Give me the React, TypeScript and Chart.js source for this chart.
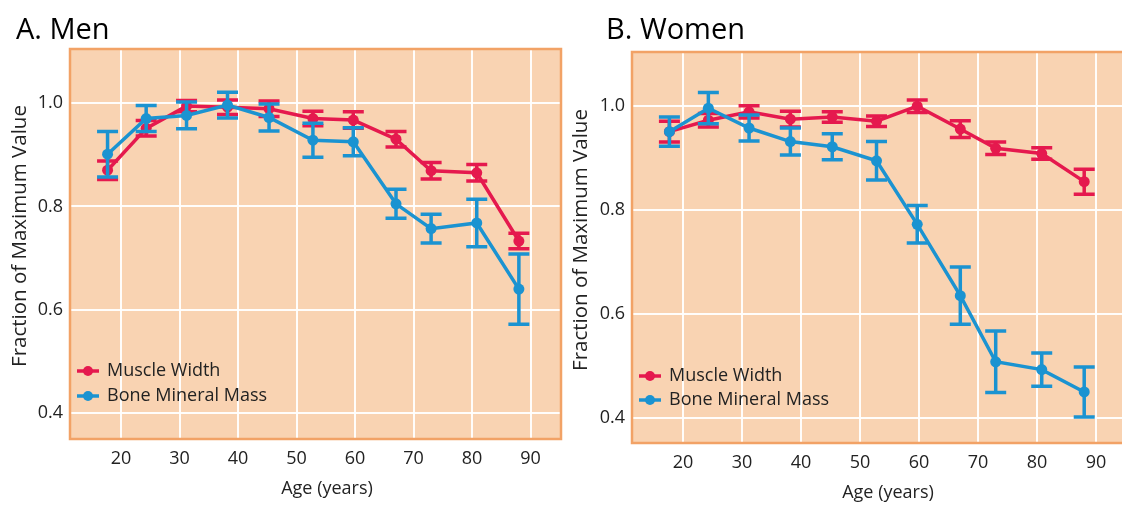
import React, { useEffect, useRef } from "react";
import { Chart, registerables } from "chart.js";

Chart.register(...registerables);

// ---- data ----
const AGES = [17.7, 24.3, 31.2, 38.2, 45.3, 52.8, 59.7, 67.0, 73.0, 80.8, 88.0];

const MEN_MUSCLE = [0.870, 0.951, 0.994, 0.992, 0.989, 0.970, 0.967, 0.930, 0.869, 0.865, 0.733];
const MEN_MUSCLE_ERR = [0.018, 0.015, 0.011, 0.014, 0.015, 0.014, 0.016, 0.015, 0.016, 0.016, 0.015];
const MEN_BONE = [0.901, 0.970, 0.976, 0.996, 0.972, 0.928, 0.925, 0.805, 0.757, 0.768, 0.640];
const MEN_BONE_ERR = [0.044, 0.025, 0.026, 0.025, 0.026, 0.033, 0.027, 0.028, 0.028, 0.046, 0.068];

const WOMEN_MUSCLE = [0.950, 0.972, 0.988, 0.974, 0.978, 0.970, 0.999, 0.955, 0.918, 0.908, 0.854];
const WOMEN_MUSCLE_ERR = [0.020, 0.013, 0.012, 0.015, 0.010, 0.010, 0.012, 0.016, 0.012, 0.011, 0.024];
const WOMEN_BONE = [0.950, 0.995, 0.957, 0.931, 0.921, 0.894, 0.772, 0.635, 0.508, 0.493, 0.450];
const WOMEN_BONE_ERR = [0.028, 0.030, 0.025, 0.026, 0.025, 0.037, 0.036, 0.055, 0.059, 0.032, 0.048];

const X_TICKS = [20, 30, 40, 50, 60, 70, 80, 90];
const Y_TICKS = [0.4, 0.6, 0.8, 1.0];

const SERIES_NAMES = ["Muscle Width", "Bone Mineral Mass"];
const PANEL_TITLES = ["A. Men", "B. Women"];
const X_TITLE = "Age (years)";
const Y_TITLE = "Fraction of Maximum Value";

// ---- styles ----
const RED = "#E5194E";
const BLUE = "#1B93D1";
const PEACH = "#F9D3B2";
const FRAME = "#F2A266";
const FONT = "'Open Sans', 'Noto Sans', sans-serif";
const TEXT = "#222222";

type Panel = {
  left: number;
  width: number;
  padTop: number;
  padRight: number;
  yWidth: number;
  xHeight: number;
  xMin: number;
  xMax: number;
  yMin: number;
  yMax: number;
  title: string;
  titleX: number;
  titleY: number;
  yTitleX: number;
  yTitleY: number;
  xTitleX: number;
  xTitleY: number;
  legendX: number;
  legendY: number[];
  muscle: number[];
  muscleErr: number[];
  bone: number[];
  boneErr: number[];
};

const PANELS: Panel[] = [
  {
    left: 0, width: 580, padTop: 49, padRight: 19, yWidth: 70, xHeight: 67,
    xMin: 11.28, xMax: 95.2, yMin: 0.35, yMax: 1.1045,
    title: PANEL_TITLES[0], titleX: 16, titleY: 39,
    yTitleX: 20, yTitleY: 236, xTitleX: 327, xTitleY: 489,
    legendX: 77, legendY: [371, 396],
    muscle: MEN_MUSCLE, muscleErr: MEN_MUSCLE_ERR, bone: MEN_BONE, boneErr: MEN_BONE_ERR,
  },
  {
    left: 560, width: 620, padTop: 52, padRight: 30, yWidth: 72, xHeight: 63,
    xMin: 11.36, xMax: 99.15, yMin: 0.352, yMax: 1.103,
    title: PANEL_TITLES[1], titleX: 46, titleY: 39,
    yTitleX: 21, yTitleY: 240, xTitleX: 328, xTitleY: 493,
    legendX: 79, legendY: [376, 400],
    muscle: WOMEN_MUSCLE, muscleErr: WOMEN_MUSCLE_ERR, bone: WOMEN_BONE, boneErr: WOMEN_BONE_ERR,
  },
];

const bgPlugin = {
  id: "panelBg",
  beforeDraw(chart: any) {
    const { ctx, chartArea: a } = chart;
    ctx.save();
    ctx.fillStyle = PEACH;
    ctx.fillRect(a.left, a.top, a.right - a.left, a.bottom - a.top);
    ctx.restore();
  },
  beforeDatasetsDraw(chart: any) {
    const { ctx, chartArea: a } = chart;
    ctx.save();
    ctx.strokeStyle = FRAME;
    ctx.lineWidth = 2.5;
    ctx.strokeRect(a.left, a.top, a.right - a.left, a.bottom - a.top);
    ctx.restore();
  },
};

const errorBarPlugin = {
  id: "errorBars",
  beforeDatasetDraw(chart: any, args: any) {
    const ds = chart.data.datasets[args.index];
    const errs: number[] = ds.errors;
    if (!errs) return;
    const yScale = chart.scales.y;
    const ctx = chart.ctx;
    ctx.save();
    ctx.strokeStyle = ds.borderColor;
    ctx.lineWidth = 3.5;
    ctx.lineCap = "butt";
    args.meta.data.forEach((pt: any, i: number) => {
      const v = ds.data[i].y;
      const yHi = yScale.getPixelForValue(v + errs[i]);
      const yLo = yScale.getPixelForValue(v - errs[i]);
      const x = pt.x;
      ctx.beginPath();
      ctx.moveTo(x, yHi);
      ctx.lineTo(x, yLo);
      ctx.moveTo(x - 10.5, yHi);
      ctx.lineTo(x + 10.5, yHi);
      ctx.moveTo(x - 10.5, yLo);
      ctx.lineTo(x + 10.5, yLo);
      ctx.stroke();
    });
    ctx.restore();
  },
};

const textPlugin = {
  id: "panelText",
  afterDraw(chart: any) {
    const p: Panel = chart.options.plugins.panelText.panel;
    const ctx = chart.ctx;
    ctx.save();
    // title
    ctx.fillStyle = "#000";
    ctx.font = `29px ${FONT}`;
    ctx.textAlign = "left";
    ctx.textBaseline = "alphabetic";
    ctx.fillText(p.title, p.titleX, p.titleY);
    // x title
    ctx.fillStyle = TEXT;
    ctx.font = `18px ${FONT}`;
    ctx.textAlign = "center";
    ctx.textBaseline = "middle";
    ctx.fillText(X_TITLE, p.xTitleX, p.xTitleY);
    // y title
    ctx.save();
    ctx.translate(p.yTitleX, p.yTitleY);
    ctx.rotate(-Math.PI / 2);
    ctx.font = `20.5px ${FONT}`;
    ctx.fillText(Y_TITLE, 0, 0);
    ctx.restore();
    // legend
    const colors = [RED, BLUE];
    SERIES_NAMES.forEach((name, i) => {
      const y = p.legendY[i];
      ctx.strokeStyle = colors[i];
      ctx.fillStyle = colors[i];
      ctx.lineWidth = 3.5;
      ctx.beginPath();
      ctx.moveTo(p.legendX, y);
      ctx.lineTo(p.legendX + 22, y);
      ctx.stroke();
      ctx.beginPath();
      ctx.arc(p.legendX + 11, y, 5, 0, Math.PI * 2);
      ctx.fill();
      ctx.fillStyle = TEXT;
      ctx.font = `18px ${FONT}`;
      ctx.textAlign = "left";
      ctx.textBaseline = "middle";
      ctx.fillText(name, p.legendX + 30, y);
    });
    ctx.restore();
  },
};

function PanelChart({ panel }: { panel: Panel }) {
  const ref = useRef<HTMLCanvasElement | null>(null);
  useEffect(() => {
    if (!ref.current) return;
    const toPts = (vals: number[]) => AGES.map((a, i) => ({ x: a, y: vals[i] }));
    const chart = new Chart(ref.current, {
      type: "line",
      data: {
        datasets: [
          {
            label: SERIES_NAMES[0],
            data: toPts(panel.muscle),
            errors: panel.muscleErr,
            borderColor: RED,
            backgroundColor: RED,
            pointBackgroundColor: RED,
            pointBorderWidth: 0,
            pointRadius: 5.5,
            borderWidth: 3.5,
            tension: 0,
            order: 2,
          } as any,
          {
            label: SERIES_NAMES[1],
            data: toPts(panel.bone),
            errors: panel.boneErr,
            borderColor: BLUE,
            backgroundColor: BLUE,
            pointBackgroundColor: BLUE,
            pointBorderWidth: 0,
            pointRadius: 5.5,
            borderWidth: 3.5,
            tension: 0,
            order: 1,
          } as any,
        ],
      },
      options: {
        responsive: false,
        animation: false,
        layout: { padding: { top: panel.padTop, right: panel.padRight, left: 0, bottom: 0 } },
        plugins: {
          legend: { display: false },
          tooltip: { enabled: false },
          panelText: { panel },
        } as any,
        scales: {
          x: {
            type: "linear",
            min: panel.xMin,
            max: panel.xMax,
            afterBuildTicks: (s: any) => { s.ticks = X_TICKS.map((v) => ({ value: v })); },
            afterFit: (s: any) => { s.height = panel.xHeight; },
            grid: { color: "rgba(255,255,255,0.95)", lineWidth: 2, drawTicks: false },
            border: { display: false },
            ticks: {
              autoSkip: false,
              maxRotation: 0,
              padding: 9,
              color: TEXT,
              font: { family: FONT, size: 18 },
              callback: (v: any) => String(v),
            },
          },
          y: {
            type: "linear",
            min: panel.yMin,
            max: panel.yMax,
            afterBuildTicks: (s: any) => { s.ticks = Y_TICKS.map((v) => ({ value: v })); },
            afterFit: (s: any) => { s.width = panel.yWidth; },
            grid: { color: "rgba(255,255,255,0.95)", lineWidth: 2, drawTicks: false },
            border: { display: false },
            ticks: {
              autoSkip: false,
              padding: 7,
              color: TEXT,
              font: { family: FONT, size: 18 },
              callback: (v: any) => Number(v).toFixed(1),
            },
          },
        },
      } as any,
      plugins: [bgPlugin, errorBarPlugin, textPlugin],
    });
    return () => chart.destroy();
  }, [panel]);
  return (
    <canvas
      ref={ref}
      width={panel.width}
      height={506}
      style={{ position: "absolute", left: panel.left, top: 0, width: panel.width, height: 506 }}
    />
  );
}

export default function App() {
  return (
    <div
      style={{
        position: "fixed",
        left: 0,
        top: 0,
        width: 1122,
        height: 506,
        overflow: "hidden",
        background: "#fff",
      }}
    >
      {PANELS.map((p, i) => (
        <PanelChart key={i} panel={p} />
      ))}
    </div>
  );
}
